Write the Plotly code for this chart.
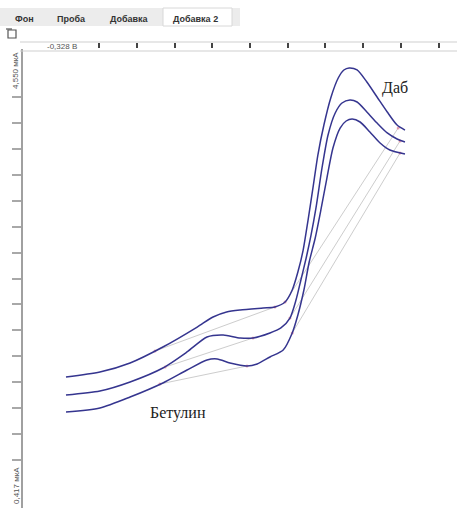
import plotly.graph_objects as go

# Potential, V (common grid)
E_TOP = [-0.214, -0.124, -0.044, 0.043, 0.134, 0.176, 0.212, 0.248, 0.309, 0.340, 0.367,
         0.386, 0.401, 0.415, 0.428, 0.441, 0.454, 0.470, 0.489, 0.508, 0.523,
         0.537, 0.558, 0.584, 0.611, 0.638, 0.664, 0.685]
I_TOP = [1.503, 1.552, 1.642, 1.801, 2.000, 2.100, 2.150, 2.170, 2.190, 2.200, 2.249,
         2.369, 2.548, 2.767, 3.066, 3.385, 3.713, 4.012, 4.291, 4.480, 4.560,
         4.580, 4.560, 4.440, 4.291, 4.142, 4.012, 3.962]

E_MID = [-0.214, -0.124, -0.044, 0.043, 0.107, 0.160, 0.203, 0.248, 0.282, 0.327,
         0.356, 0.380, 0.396, 0.409, 0.423, 0.436, 0.449, 0.465, 0.481, 0.500,
         0.518, 0.539, 0.558, 0.584, 0.611, 0.638, 0.664, 0.685]
I_MID = [1.323, 1.363, 1.453, 1.592, 1.752, 1.901, 1.921, 1.891, 1.891, 1.941,
         1.991, 2.090, 2.269, 2.469, 2.688, 2.917, 3.186, 3.584, 3.913, 4.132,
         4.231, 4.261, 4.241, 4.142, 4.032, 3.933, 3.873, 3.843]

E_BOT = [-0.214, -0.124, -0.044, 0.043, 0.107, 0.160, 0.187, 0.221, 0.266, 0.293,
         0.327, 0.362, 0.386, 0.401, 0.417, 0.431, 0.447, 0.462, 0.478, 0.494,
         0.513, 0.529, 0.545, 0.566, 0.592, 0.619, 0.645, 0.685]
I_BOT = [1.154, 1.194, 1.303, 1.443, 1.572, 1.672, 1.682, 1.642, 1.612, 1.632,
         1.702, 1.771, 1.941, 2.120, 2.369, 2.648, 2.887, 3.166, 3.484, 3.783,
         3.982, 4.052, 4.072, 4.042, 3.943, 3.833, 3.763, 3.723]

# Peak baselines: (E start, E end), (I start, I end)
BASE_BETULIN = [((0.022, 0.340), (1.761, 2.200)),
                ((0.049, 0.282), (1.602, 1.891)),
                ((0.035, 0.266), (1.433, 1.612))]
BASE_DAB = [((0.367, 0.667), (2.249, 3.982)),
            ((0.380, 0.672), (2.090, 3.853)),
            ((0.386, 0.672), (1.941, 3.733))]

# Axis scale
E_MIN, E_MAX = -0.328, 0.823
I_MIN, I_MAX = 0.198, 4.769
I_TOP_LABEL, I_BOTTOM_LABEL = 4.550, 0.417
TICK_E = [-0.126, -0.026, 0.074, 0.174, 0.274, 0.374, 0.474, 0.574, 0.674, 0.774]
TICK_I = [4.292, 4.033, 3.775, 3.517, 3.258, 3.000, 2.742, 2.483, 2.225,
          1.967, 1.708, 1.450, 1.192, 0.933, 0.675]

TABS = ["Фон", "Проба", "Добавка", "Добавка 2"]
TAB_X = [24, 71, 129, 195]

W, H = 470, 508
CURVE = "#35358f"
BASE = "#cdcdcd"

fig = go.Figure()

for (ex, iy) in BASE_BETULIN + BASE_DAB:
    fig.add_trace(go.Scatter(x=list(ex), y=list(iy), mode="lines+markers",
                             line=dict(color=BASE, width=1),
                             marker=dict(color="rgba(220,90,120,0.55)", size=3),
                             hoverinfo="skip", showlegend=False))

for ex, iy in [(E_TOP, I_TOP), (E_MID, I_MID), (E_BOT, I_BOT)]:
    fig.add_trace(go.Scatter(x=ex, y=iy, mode="lines",
                             line=dict(color=CURVE, width=1.5, shape="spline", smoothing=0.7),
                             showlegend=False))

y_top_px = 49
fig.update_layout(
    width=W, height=H,
    margin=dict(l=0, r=0, t=0, b=0),
    paper_bgcolor="white", plot_bgcolor="white",
    xaxis=dict(domain=[23 / W, 457 / W], range=[E_MIN, E_MAX], side="top",
               showgrid=False, zeroline=False, showline=False,
               tickmode="array", tickvals=TICK_E, showticklabels=False,
               ticks="outside", ticklen=5, tickwidth=1.5, tickcolor="#444"),
    yaxis=dict(domain=[0, (H - y_top_px) / H], range=[I_MIN, I_MAX],
               showgrid=False, zeroline=False, showline=True,
               linecolor="#a0a0a0", linewidth=1.5,
               tickmode="array", tickvals=TICK_I, showticklabels=False,
               ticks="outside", ticklen=9, tickwidth=2, tickcolor="#a8a8a8"),
)

def px_x(p):
    return p / W

def px_y(p):
    return 1 - p / H

shapes = [
    # tab strip
    dict(type="rect", xref="paper", yref="paper", x0=0, x1=px_x(240), y0=px_y(26), y1=px_y(8),
         fillcolor="#ececec", line=dict(width=0), layer="below"),
    dict(type="rect", xref="paper", yref="paper", x0=px_x(163), x1=px_x(232), y0=px_y(26), y1=px_y(8),
         fillcolor="white", line=dict(color="#d8d8d8", width=1), layer="below"),
    # small toolbar icon
    dict(type="rect", xref="paper", yref="paper", x0=px_x(8), x1=px_x(16), y0=px_y(38), y1=px_y(30),
         fillcolor="white", line=dict(color="#555", width=1.2)),
    dict(type="line", xref="paper", yref="paper", x0=px_x(6), x1=px_x(12), y0=px_y(29), y1=px_y(29),
         line=dict(color="#555", width=1.2)),
    # top scale band
    dict(type="line", xref="paper", yref="paper", x0=px_x(20), x1=px_x(457), y0=px_y(42), y1=px_y(42),
         line=dict(color="#cfcfcf", width=1)),
    dict(type="line", xref="paper", yref="paper", x0=px_x(20), x1=px_x(457), y0=px_y(51), y1=px_y(51),
         line=dict(color="#cfcfcf", width=1)),
]
fig.update_layout(shapes=shapes)

annotations = []
for name, cx in zip(TABS, TAB_X):
    annotations.append(dict(text=f"<b>{name}</b>", xref="paper", yref="paper", x=px_x(cx), y=px_y(18.5),
                            showarrow=False, xanchor="center", yanchor="middle",
                            font=dict(family="Liberation Sans", size=9, color="#333")))
annotations += [
    dict(text="-0,328 В", xref="paper", yref="paper", x=px_x(62), y=px_y(46),
         showarrow=False, xanchor="center", yanchor="middle",
         font=dict(family="Liberation Sans", size=8, color="#555")),
    dict(text=f"{I_TOP_LABEL:.3f} мкА".replace(".", ","), xref="paper", y=I_TOP_LABEL, yref="y",
         x=px_x(16), showarrow=False, textangle=-90, xanchor="center", yanchor="middle",
         font=dict(family="Liberation Sans", size=8, color="#555")),
    dict(text=f"{I_BOTTOM_LABEL:.3f} мкА".replace(".", ","), xref="paper", y=I_BOTTOM_LABEL, yref="y",
         x=px_x(16), showarrow=False, textangle=-90, xanchor="center", yanchor="middle",
         font=dict(family="Liberation Sans", size=8, color="#555")),
    dict(text="Бетулин", x=0.083, y=1.144, xref="x", yref="y", showarrow=False,
         font=dict(family="Liberation Serif", size=16, color="#222")),
    dict(text="Даб", x=0.659, y=4.381, xref="x", yref="y", showarrow=False,
         font=dict(family="Liberation Serif", size=16, color="#222")),
]
fig.update_layout(annotations=annotations)

fig.write_html("out.html")
